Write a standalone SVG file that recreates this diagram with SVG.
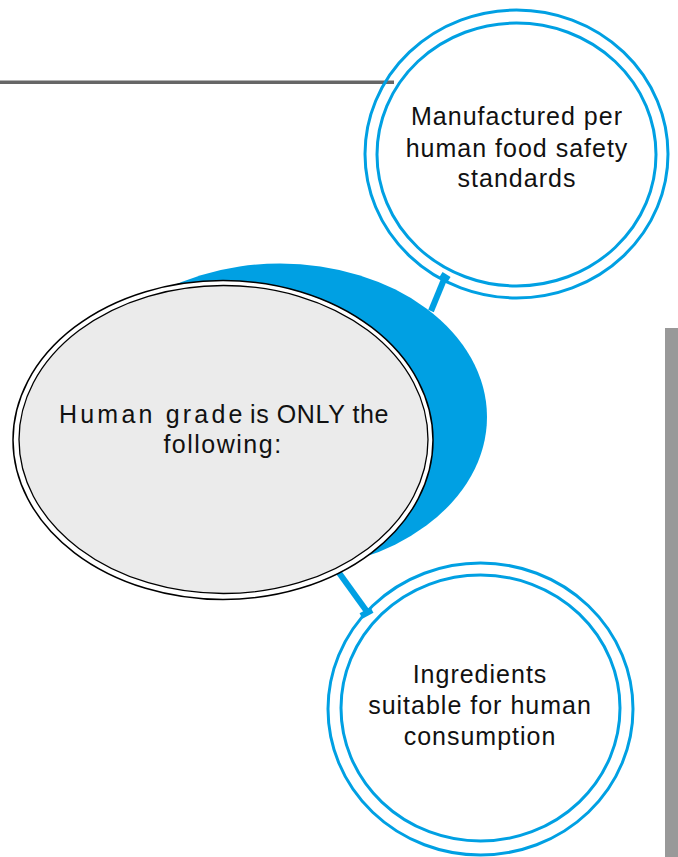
<svg xmlns="http://www.w3.org/2000/svg" width="678" height="857" viewBox="0 0 678 857">
  <style>
    .ring { fill: none; stroke: #00a0e3; stroke-width: 3; }
    .conn { stroke: #00a0e3; stroke-width: 6; fill: none; stroke-linecap: butt; }
    .lbl { font-family: "Liberation Sans", Arial, sans-serif; font-size: 25px; fill: #111; text-anchor: middle; letter-spacing: 1px; }
    .main { font-family: "Liberation Sans", Arial, sans-serif; font-size: 25px; fill: #111; }
  </style>
  <rect x="0" y="0" width="678" height="857" fill="#ffffff"/>
  <!-- decorative bars -->
  <rect x="0" y="80.5" width="394" height="3.5" fill="#666666"/>
  <rect x="665" y="328" width="13" height="529" fill="#999999"/>

  <!-- connectors -->
  <g id="connectors">
    <line class="conn" x1="431" y1="311" x2="445" y2="277"/>
    <line class="conn" x1="441" y1="274.5" x2="449" y2="279.5"/>
    <line class="conn" x1="337" y1="570" x2="368" y2="613"/>
    <line class="conn" x1="361" y1="616" x2="372" y2="610"/>
  </g>

  <g id="main">
    <ellipse cx="280" cy="417" rx="207" ry="153.5" fill="#00a0e3"/>
    <ellipse cx="223" cy="440" rx="210" ry="159.5" fill="#ffffff" stroke="#000" stroke-width="1.5"/>
    <ellipse cx="223.5" cy="439.5" rx="204.5" ry="154" fill="#ebebeb" stroke="#000" stroke-width="1.3"/>
    <text class="main" x="59" y="423" letter-spacing="3.2">Human grade</text>
    <text class="main" x="250" y="423" letter-spacing="0.6">is ONLY the</text>
    <text class="main" x="223" y="453" text-anchor="middle" letter-spacing="1.5">following:</text>
  </g>

  <g id="top-node">
    <ellipse class="ring" cx="516.5" cy="154" rx="151.5" ry="144"/>
    <ellipse class="ring" cx="516.5" cy="154.5" rx="139.5" ry="131.5"/>
    <text class="lbl" x="517" y="125">Manufactured per</text>
    <text class="lbl" x="517" y="157">human food safety</text>
    <text class="lbl" x="517" y="187">standards</text>
  </g>

  <g id="bottom-node">
    <ellipse class="ring" cx="480.5" cy="709" rx="152.5" ry="146"/>
    <ellipse class="ring" cx="480.5" cy="708" rx="139.5" ry="133"/>
    <text class="lbl" x="480" y="683">Ingredients</text>
    <text class="lbl" x="480" y="714">suitable for human</text>
    <text class="lbl" x="480" y="745">consumption</text>
  </g>
</svg>
